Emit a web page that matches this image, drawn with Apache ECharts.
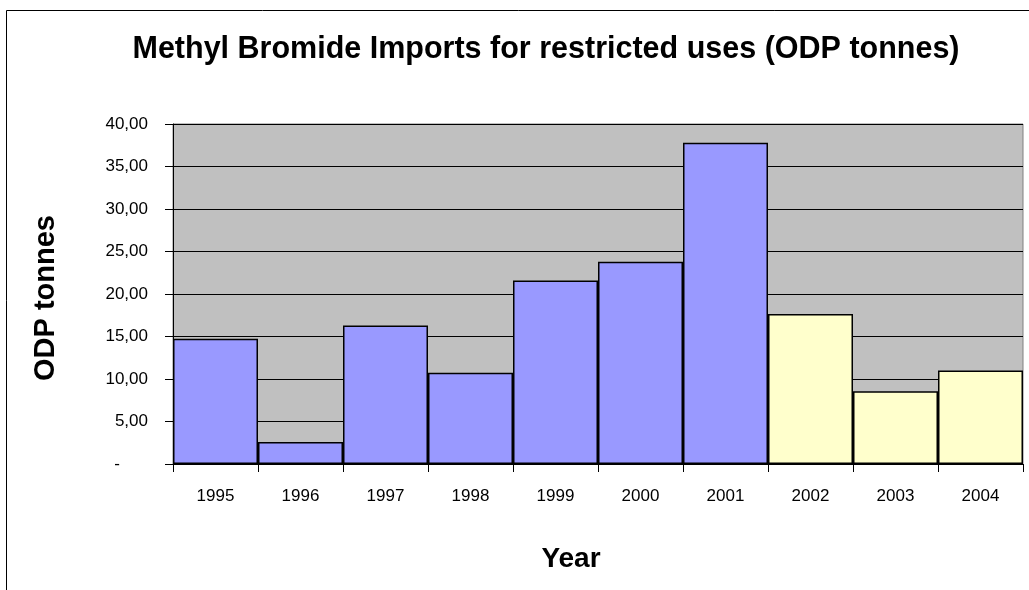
<!DOCTYPE html>
<html>
<head>
<meta charset="utf-8">
<script src="https://cdn.jsdelivr.net/npm/echarts@6/dist/echarts.min.js"></script>
<style>
  html, body { margin: 0; padding: 0; background: #fff; }
  #chart { width: 1029px; height: 590px; }
</style>
</head>
<body>
<div id="chart"></div>
<script>
// data
const years = ['1995', '1996', '1997', '1998', '1999', '2000', '2001', '2002', '2003', '2004']
const imports = [14.75, 2.6, 16.3, 10.75, 21.6, 23.8, 37.8, 17.65, 8.55, 11.0]
const firstProjectedYear = '2002'
const yTicks = [0, 5, 10, 15, 20, 25, 30, 35, 40]

const font = 'Liberation Sans, Arial, sans-serif'
const projectedFrom = years.indexOf(firstProjectedYear)

const chart = echarts.init(document.getElementById('chart'))

const option = {
  backgroundColor: '#fff',
  animation: false,
  title: {
    text: 'Methyl Bromide Imports for restricted uses (ODP tonnes)',
    left: 541,
    textAlign: 'center',
    top: 29,
    textStyle: { fontFamily: font, fontSize: 30.5, fontWeight: 'bold', color: '#000' }
  },
  graphic: [
    {
      type: 'rect',
      left: 4,
      top: 8,
      shape: { width: 1100, height: 700 },
      style: { fill: 'none', stroke: '#000', lineWidth: 1 },
      silent: true
    },
    {
      type: 'text',
      x: 571,
      y: 559,
      style: {
        text: 'Year',
        align: 'center',
        verticalAlign: 'middle',
        font: 'bold 28px ' + font,
        fill: '#000'
      }
    }
  ],
  grid: {
    left: 173,
    right: 6,
    top: 124,
    bottom: 126,
    show: true,
    backgroundColor: '#C0C0C0',
    borderColor: '#808080',
    borderWidth: 1
  },
  xAxis: {
    type: 'category',
    data: years,
    axisLine: { lineStyle: { color: '#000', width: 1 } },
    axisTick: { show: true, length: 8, lineStyle: { color: '#000' } },
    axisLabel: { margin: 24, fontFamily: font, fontSize: 17, color: '#000' }
  },
  yAxis: {
    type: 'value',
    min: yTicks[0],
    max: yTicks[yTicks.length - 1],
    interval: yTicks[1] - yTicks[0],
    name: 'ODP tonnes',
    nameLocation: 'middle',
    nameGap: 113,
    nameTextStyle: { fontFamily: font, fontSize: 29, fontWeight: 'bold', color: '#000', padding: [0, 8, 0, 0] },
    axisLine: { show: true, lineStyle: { color: '#000', width: 1 } },
    axisTick: { show: true, length: 8, lineStyle: { color: '#000' } },
    splitLine: { show: true, lineStyle: { color: '#000', width: 1 } },
    axisLabel: {
      margin: 25,
      fontFamily: font,
      fontSize: 17,
      color: '#000',
      formatter: v => v === 0 ? '{dash|-}' : v.toFixed(2).replace('.', ','),
      rich: { dash: { fontFamily: font, fontSize: 17, color: '#000', padding: [0, 28, 0, 0] } }
    }
  },
  series: [
    {
      type: 'bar',
      barCategoryGap: '0%',
      data: imports.map((v, i) => ({
        value: v,
        itemStyle: { color: i >= projectedFrom ? '#FFFFCC' : '#9999FF' }
      })),
      itemStyle: { borderColor: '#000', borderWidth: 1.5 }
    }
  ]
}

chart.setOption(option)
</script>
</body>
</html>
